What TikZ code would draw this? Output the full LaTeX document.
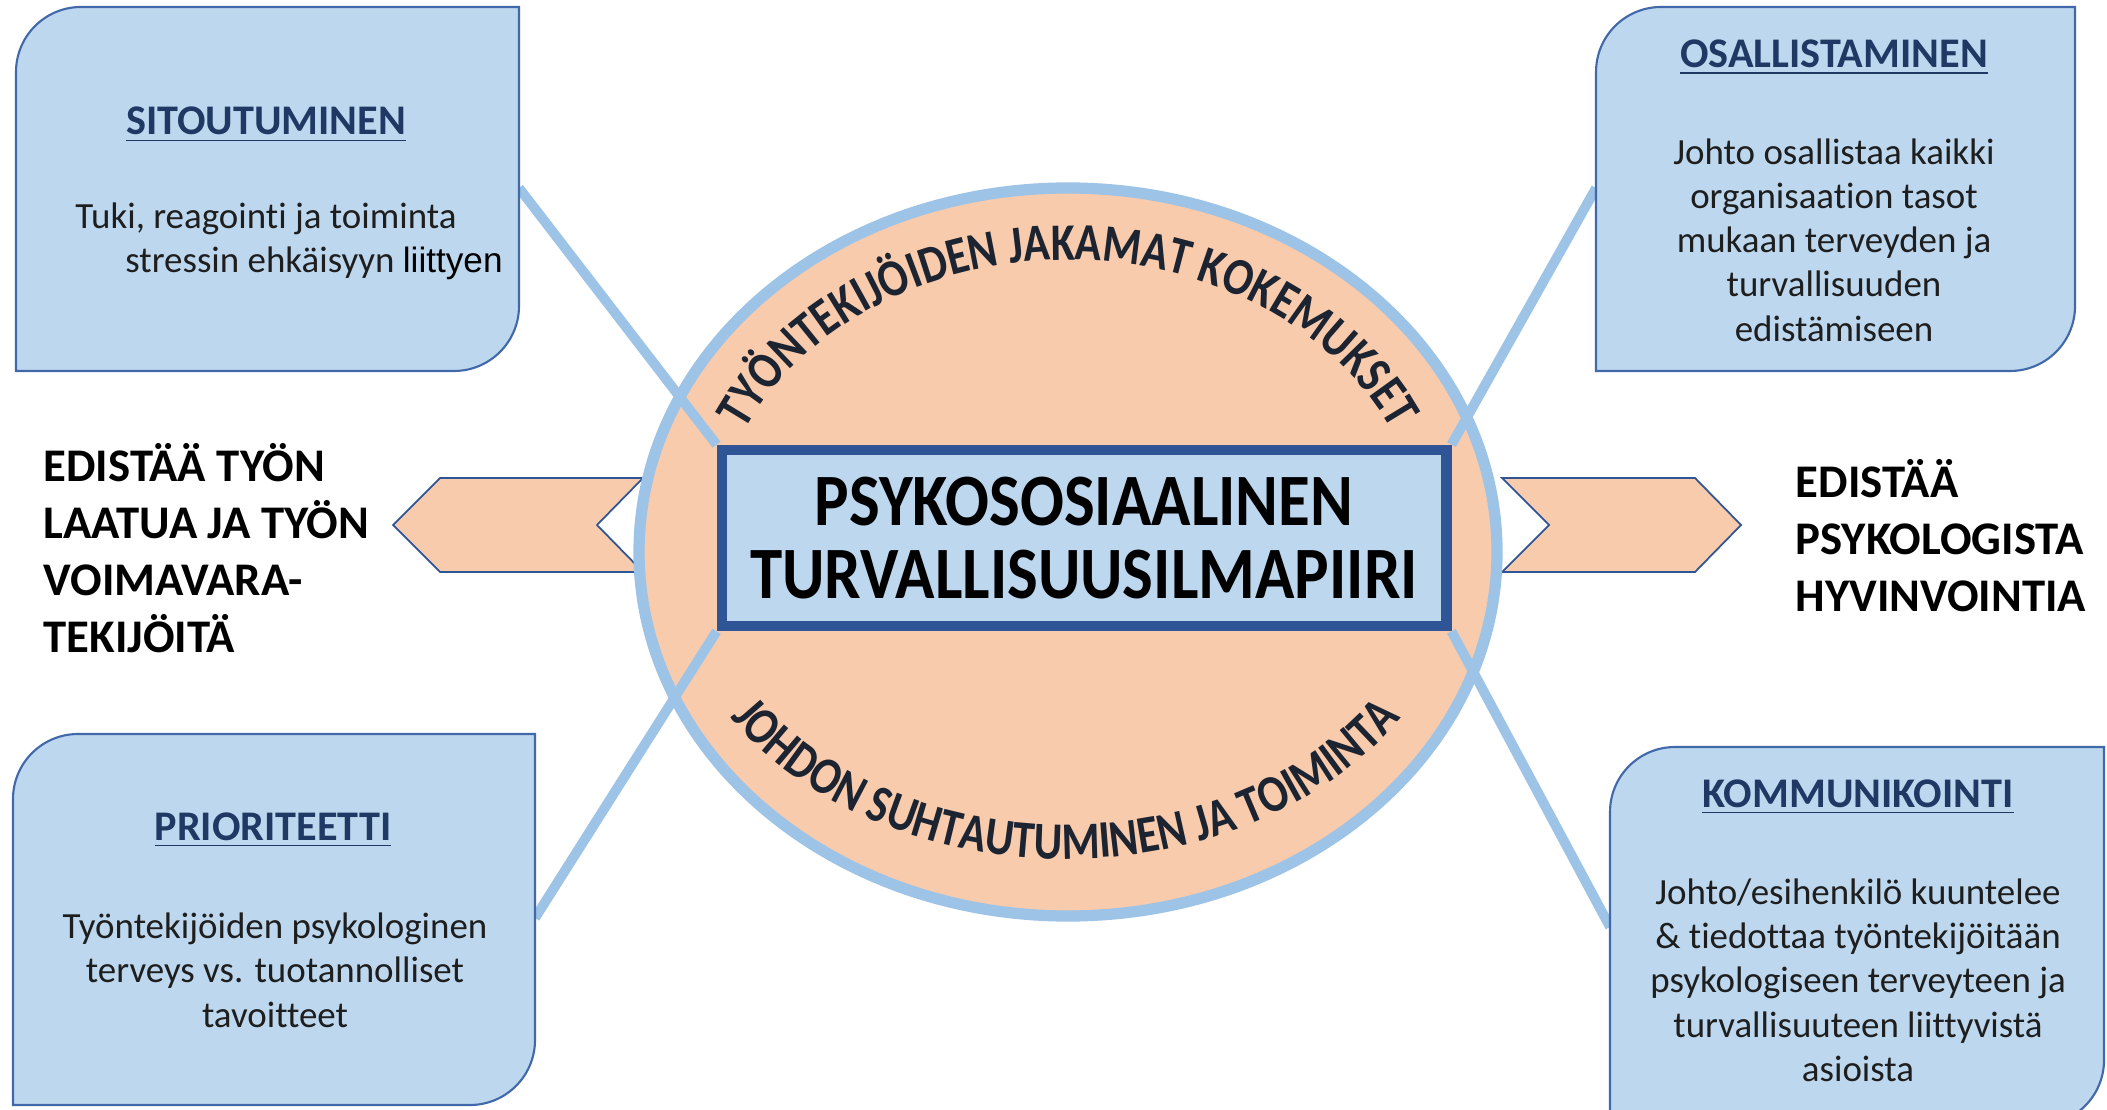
\documentclass[tikz,border=0pt]{standalone}
\usepackage{fontspec}
\setmainfont{Carlito}[Ligatures={NoCommon}]
\newfontfamily\arialfont{Liberation Sans}
\newfontfamily\narrowfam{Carlito}[FakeStretch=0.83, Ligatures={NoCommon}]
\newfontfamily\corefam{Carlito}[FakeStretch=0.88, Ligatures={NoCommon}]
\usetikzlibrary{decorations.text}
\definecolor{boxfill}{RGB}{189,215,238}
\definecolor{boxline}{RGB}{65,105,170}
\definecolor{peach}{RGB}{248,203,173}
\definecolor{linkblue}{RGB}{157,195,230}
\definecolor{corebord}{RGB}{47,85,151}
\definecolor{titleblue}{RGB}{31,56,100}
\definecolor{bodytext}{RGB}{30,30,30}
\definecolor{curvetext}{RGB}{28,36,50}
\newcommand\curvefont{\narrowfam\fontsize{15}{17}\selectfont\bfseries\color{curvetext}}
\pgfdeclarelayer{bg}
\pgfsetlayers{bg,main}
\begin{document}
\begin{tikzpicture}[x=0.01cm,y=-0.01cm,
  titlestyle/.style={font=\fontsize{12}{14}\selectfont\bfseries, text=titleblue, inner sep=0pt, anchor=base},
  bodystyle/.style={font=\fontsize{10.5}{12.6}\selectfont, text=bodytext, align=center, inner sep=0pt},
  cardstyle/.style={fill=boxfill, draw=boxline, line width=0.6pt},
  linkstyle/.style={draw=linkblue, line width=2.8pt},
  chevstyle/.style={fill=peach, draw=corebord, line width=0.5pt, line join=miter},
  sidestyle/.style={font=\fontsize{13.3}{16.2}\selectfont\bfseries, align=left, inner sep=0pt, text=black, anchor=west},
  corestyle/.style={draw=corebord, fill=boxfill, line width=3pt, minimum width=7.24cm, minimum height=1.76cm, inner sep=0pt, align=center, font=\corefam\fontsize{21}{21}\selectfont\bfseries, text=black}
]
\useasboundingbox (0,0) rectangle (2107,1110);
\clip (0,0) rectangle (2107,1110);

% central rectangle (main layer, on top)
\node[corestyle] (core) at (1084,538) {PSYKOSOSIAALINEN\\TURVALLISUUSILMAPIIRI};

% connector end points on the cards
\coordinate (tlEnd) at (519,188);
\coordinate (trEnd) at (1596,188);
\coordinate (blEnd) at (535,918);
\coordinate (brEnd) at (1610,927);

\begin{pgfonlayer}{bg}
  % chevrons
  \draw[chevstyle] (393,525) -- (440,478) -- (643,478) -- (597,525) -- (643,572) -- (440,572) -- cycle;
  \draw[chevstyle] (1502,478) -- (1695,478) -- (1741,525) -- (1695,572) -- (1502,572) -- (1549,525) -- cycle;
  % ellipse
  \draw[fill=peach, draw=linkblue, line width=3.2pt] (1068,552) ellipse [x radius=429, y radius=364];
  % curved texts
  \path[decorate, decoration={text along path, text align=center,
      text={|\curvefont|TYÖNTEKIJÖIDEN JAKAMAT KOKEMUKSET}}]
    (1068,552) ++(196:356 and 292) arc[start angle=196, end angle=344, x radius=356, y radius=292];
  \path[decorate, decoration={text along path, text align=center,
      text={|\curvefont|JOHDON SUHTAUTUMINEN JA TOIMINTA}}]
    (1066,548) ++(158:400 and 311) arc[start angle=158, end angle=22, x radius=400, y radius=311];
  % connectors
  \draw[linkstyle] (tlEnd) -- (core.north west);
  \draw[linkstyle] (trEnd) -- (core.north east);
  \draw[linkstyle] (blEnd) -- (core.south west);
  \draw[linkstyle] (brEnd) -- (core.south east);
\end{pgfonlayer}

% cards
\draw[cardstyle] (16,371) -- (16,72) arc[start angle=180, end angle=270, radius=65] -- (519,7) -- (519,306) arc[start angle=0, end angle=90, radius=65] -- cycle;
\draw[cardstyle] (1596,371) -- (1596,72) arc[start angle=180, end angle=270, radius=65] -- (2075,7) -- (2075,306) arc[start angle=0, end angle=90, radius=65] -- cycle;
\draw[cardstyle] (13,1105) -- (13,799) arc[start angle=180, end angle=270, radius=65] -- (535,734) -- (535,1040) arc[start angle=0, end angle=90, radius=65] -- cycle;
\draw[cardstyle] (1610,1125) -- (1610,812) arc[start angle=180, end angle=270, radius=65] -- (2104,747) -- (2104,1060) arc[start angle=0, end angle=90, radius=65] -- cycle;

% card texts
\node[titlestyle] (tlTitle) at (266,135) {\underline{SITOUTUMINEN}};
\node[bodystyle] (tlBodyA) at (266,219) {Tuki, reagointi ja toiminta};
\node[bodystyle] (tlBodyB) at (314,263) {stressin ehkäisyyn {\arialfont\fontsize{10}{12}\selectfont\color{black}liittyen}};

\node[titlestyle] (trTitle) at (1834,68) {\underline{OSALLISTAMINEN}};
\node[bodystyle] (trBody) at (1834,240) {Johto osallistaa kaikki\\organisaation tasot\\mukaan terveyden ja\\turvallisuuden\\edistämiseen};

\node[titlestyle] (blTitle) at (273,840) {\underline{PRIORITEETTI}};
\node[bodystyle] (blBody) at (275,970) {Työntekijöiden psykologinen\\terveys vs. tuotannolliset\\tavoitteet};

\node[titlestyle] (brTitle) at (1858,807) {\underline{KOMMUNIKOINTI}};
\node[bodystyle] (brBody) at (1858,980) {Johto/esihenkilö kuuntelee\\\& tiedottaa työntekijöitään\\psykologiseen terveyteen ja\\turvallisuuteen liittyvistä\\asioista};

% side texts
\node[sidestyle] (leftText) at (43,548) {EDISTÄÄ TYÖN\\LAATUA JA TYÖN\\VOIMAVARA-\\TEKIJÖITÄ};
\node[sidestyle] (rightText) at (1795,536) {EDISTÄÄ\\PSYKOLOGISTA\\HYVINVOINTIA};
\end{tikzpicture}
\end{document}
